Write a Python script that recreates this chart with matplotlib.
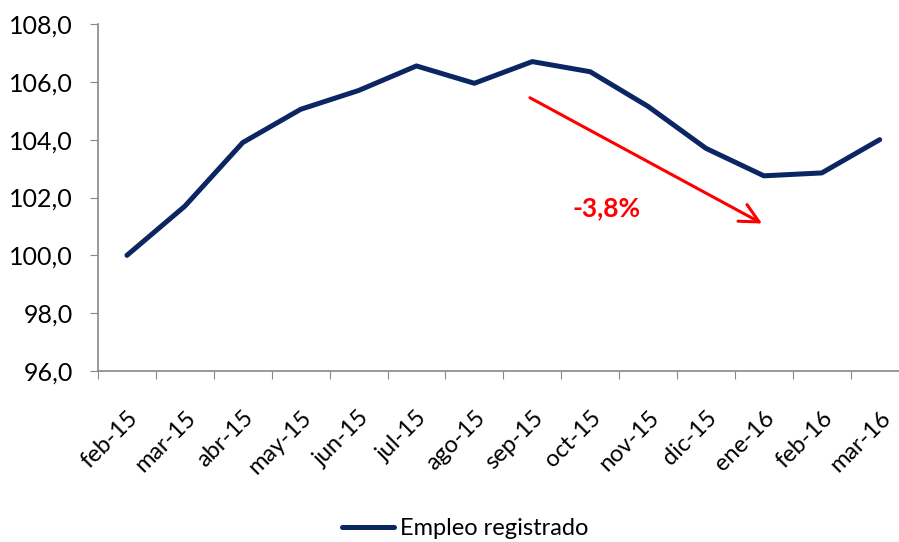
import matplotlib
matplotlib.use("Agg")
import matplotlib.pyplot as plt
import matplotlib.transforms as mtransforms
import numpy as np

plt.rcParams['font.family'] = ['Lato', 'DejaVu Sans']

meses = ['feb-15', 'mar-15', 'abr-15', 'may-15', 'jun-15', 'jul-15', 'ago-15',
         'sep-15', 'oct-15', 'nov-15', 'dic-15', 'ene-16', 'feb-16', 'mar-16']
empleo = [100.0, 101.7, 103.9, 105.05, 105.7, 106.55, 105.95,
          106.7, 106.35, 105.15, 103.7, 102.75, 102.85, 104.0]
etiqueta_caida = '-3,8%'

fig = plt.figure(figsize=(8.99, 5.42), dpi=100)
ax = fig.add_axes([0.109, 0.3155, 0.9017, 0.6402])

x = np.arange(len(meses))
ax.plot(x, empleo, '-', color='#0b2663', lw=3.6, solid_joinstyle='round',
        solid_capstyle='round', label='Empleo registrado')

ax.set_xlim(-0.5, len(meses) - 0.5)
ax.set_ylim(96, 108)
yt = np.arange(96, 108.1, 2)
ax.set_yticks(yt)
ax.set_yticklabels([('%.1f' % v).replace('.', ',') for v in yt], fontsize=18)
ax.set_xticks(x - 0.5)
ax.set_xticklabels([])
ax.set_xticks(x, minor=True)
ax.set_xticklabels(meses, minor=True, rotation=45, ha='right', va='top',
                   rotation_mode='anchor', fontsize=17)
offset = mtransforms.ScaledTranslation(6 / 100, 0, fig.dpi_scale_trans)
for lab in ax.xaxis.get_minorticklabels():
    lab.set_transform(lab.get_transform() + offset)
ax.tick_params(axis='x', which='minor', length=0, pad=26)
ax.tick_params(axis='x', which='major', length=6, color='#888888', direction='out')
ax.tick_params(axis='y', length=6, color='#888888', direction='out', pad=12)

for s in ['top', 'right']:
    ax.spines[s].set_visible(False)
for s in ['left', 'bottom']:
    ax.spines[s].set_color('#888888')
    ax.spines[s].set_linewidth(1.2)

# flecha de caída entre sep-15 y ene-16
ax.annotate('', xy=(10.97, 101.1), xytext=(6.96, 105.45),
            arrowprops=dict(arrowstyle='->', color='#ff0000', lw=2.2,
                            mutation_scale=34, shrinkA=0, shrinkB=0))
ax.text(8.29, 101.63, etiqueta_caida, color='#ff0000', fontsize=19,
        fontweight='bold', ha='center', va='center')

fig.legend(loc='center', bbox_to_anchor=(0.517, 0.024), frameon=False,
           fontsize=17, handlelength=2.2, handletextpad=0.25)

fig.savefig('out.png', dpi=100)
